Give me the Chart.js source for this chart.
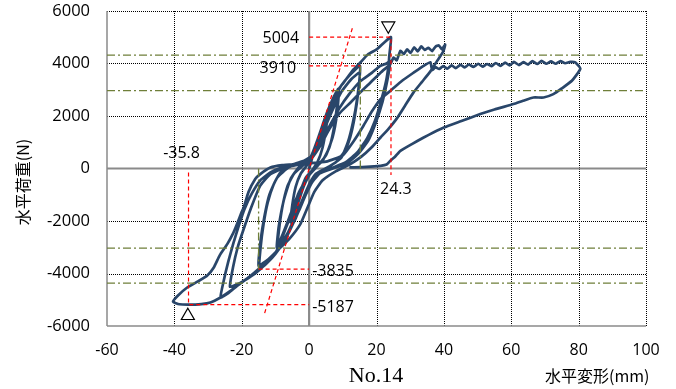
<!DOCTYPE html>
<html><head><meta charset="utf-8">
<script src="https://cdn.jsdelivr.net/npm/chart.js@4/dist/chart.umd.min.js"></script>
<style>html,body{margin:0;padding:0;background:#fff;}canvas{display:block;}</style>
</head><body>
<canvas id="c" width="676" height="389"></canvas>
<script>
const xTicks = [-60, -40, -20, 0, 20, 40, 60, 80, 100];
const yTicks = [-6000, -4000, -2000, 0, 2000, 4000, 6000];

// hysteresis path: [displacement (mm), load (N)]
const hysteresis = [
[0,0],[1.5,650],[3,1250],[4.5,1800],[5.5,2100],
[5,1500],[4,800],[2.5,250],[0.5,-150],[-1.5,-650],[-3,-1200],[-4.5,-1750],[-5.5,-2050],
[-5,-1400],[-4,-700],[-2.5,-200],[-0.5,150],
[1.5,600],[3.5,1300],[5.5,1950],[7,2500],[8.6,3030],
[8.2,2300],[7.3,1500],[6,800],[4,300],[1.5,0],[-1,-350],[-3,-1000],[-5,-1650],[-7,-2300],[-8.5,-2800],[-9.5,-3130],
[-9,-2400],[-8,-1500],[-6.5,-700],[-4.5,-200],[-2,100],[0.5,350],
[2.5,900],[5,1800],[7,2400],[8.8,2950],[8.3,2100],[7,1200],[5,500],[2.5,100],[0,-250],[-3,-900],[-6,-1900],[-8,-2550],[-9.6,-3000],[-9,-2200],[-7.5,-1200],[-5.5,-400],[-3,50],[0,250],
[2,800],[4.5,1700],[7,2500],[9.5,3150],[12,3550],[15.1,3910],
[14.6,2950],[13.5,1950],[12.2,1200],[10.5,650],[8,250],[5,0],[2,-250],[0,-700],[-2,-1300],[-4.5,-2000],[-7,-2700],[-10,-3250],[-12.5,-3600],[-14.8,-3835],
[-14.4,-3000],[-13.5,-2100],[-12.3,-1300],[-10.5,-600],[-8.5,-150],[-5,150],[-1.5,300],[1,500],
[3.5,1200],[6.5,2100],[9.5,2900],[12.5,3400],[15,3650],[14.3,2700],[13,1750],[11.5,1000],[9.5,400],[6,80],[2,-200],[0,-600],[-3,-1500],[-6.5,-2500],[-10,-3200],[-13,-3550],[-15,-3700],[-14.4,-2750],[-13.3,-1850],[-11.8,-1000],[-9.5,-350],[-6,50],[-2,250],[0.5,450],
[2.5,1100],[5.3,2130],[8,2900],[10.3,3280],[13,3750],[15.2,4040],[17.5,4350],[20.2,4550],[22.3,4800],[24.3,5004],
[23.8,4300],[23.6,3950],
[22.8,3300],[21.3,2550],[19.5,1800],[17.2,1150],[14.2,600],[11,250],[7,30],[3.5,-150],[1,-500],[-1,-1000],
[-3,-1600],[-5.5,-2300],[-8,-2900],[-11,-3400],[-14.5,-3800],[-18,-4150],[-21.4,-4470],[-24,-4750],[-26.3,-4915],
[-25.3,-4250],[-24,-3550],[-22.5,-2850],[-20.8,-2150],[-19.2,-1550],[-17,-950],[-14.5,-450],[-11.5,-150],[-8,50],[-4.5,170],[-1,300],[1,450],
[3,900],[6,1600],[9,2300],[12,2850],[15,3300],[18.7,3650],[21,3900],[23,4000],[24.1,4100],
[23.2,3350],[21.8,2550],[19.8,1750],[17.5,1050],[14.5,550],[11,180],[7,0],[3,-200],[0.5,-600],[-1.5,-1100],
[-4,-1900],[-7,-2600],[-10,-3200],[-13,-3650],[-16,-4000],[-19,-4250],[-21.5,-4420],[-23.5,-4500],
[-22.6,-3772],[-21.2,-3000],[-19.6,-2373],[-17.2,-1486],[-14.5,-650],[-11.5,-213],[-7,40],[-3,150],[0,280],
[3,800],[6,1500],[9,2100],[12.3,2515],[15.2,2900],[18,3250],[21.2,3650],[23,3850],[24.1,3978],[25.1,4229],[26,4120],[27.1,4484],[28.1,4360],[29.1,4540],[30.1,4400],[31.2,4620],[32.2,4460],[33.3,4650],[34.3,4520],[35.4,4600],[36.5,4470],[37.5,4640],[38.5,4690],[39.4,4540],[40.4,4720],[39.8,4450],
[38,4100],[36,3700],[33.5,3300],[31,2900],[28.5,2400],[26,1900],[23.5,1500],[21.2,1181],[18.5,800],[15.5,450],[12,150],[8,-100],[4,-450],[1.5,-900],[-0.5,-1500],
[-2.6,-2118],[-6,-2700],[-9.5,-3136],[-12,-3450],[-14.5,-3772],[-18,-4150],[-21.4,-4469],[-24,-4720],[-26.3,-4915],[-29.3,-5105],[-32,-5165],[-35.8,-5187],[-38.5,-5170],[-40.4,-5079],
[-39,-4850],[-36.2,-4534],[-33,-4300],[-30.3,-4088],[-28.3,-3772],[-26.5,-3300],[-24.3,-2880],[-22.5,-2450],[-21.4,-2118],[-20,-1650],[-19.4,-1486],[-18,-900],[-16,-400],[-14.5,-213],[-11.5,38],[-8,130],[-3.6,168],[0,200],[5,260],[10,500],[13,1000],[16,1600],[18.5,2150],[21.2,2644],[24.5,3000],[27.6,3341],[31,3650],[34,3913],[36,4050],[36.5,3749],
[37.5,3860],[38.6,3790],[39.8,3900],[41,3800],[42.3,3930],[43.5,3820],[44.9,3950],[46.2,3850],[47.4,3960],[48.8,3870],[50.2,3990],[51.5,3880],[52.8,3980],[54.2,3900],[55.4,4020],[56.8,3910],[58.2,4030],[59.5,3930],[60.8,4060],[62.3,3940],[63.6,4050],[65,3960],[66.3,4090],[67.7,3980],[69,4100],[70.4,3990],[71.8,4080],[73.2,3990],[74.6,4090],[76,4010],[77.5,4060],[79,4040],[80.5,3800],
[78,3341],[75,3050],[72.5,2834],[69.6,2705],[66.6,2705],[63.5,2580],[60.7,2454],[55,2250],[50.8,2073],[45,1800],[40,1562],[37,1380],[34,1181],[30.5,930],[27.1,674],[25.5,450],[24.1,293],[23,150],[21.2,103],[17,60],[12.3,40]
];

const maxPoint = [24.3, 5004];
const minPoint = [-35.8, -5187];
const yieldPos = [15.2, 3910];
const yieldNeg = [-15, -3835];
const stiffnessLine = [[-13.2, -5508], [12.9, 5371]];
const levelLines = [4320, 2970, -3030, -4370];
const markerPoints = [[23.5, 5440], [-36, -5610]];

const pts = arr => arr.map(p => ({x: p[0], y: p[1]}));
const red = '#ff0000', green = '#6f7f3a', navy = '#29466a';
const redDash = (data) => ({data: pts(data), borderColor: red, borderWidth: 1.2, borderDash: [4, 3], pointRadius: 0, fill: false, tension: 0});
const greenDash = (data) => ({data: pts(data), borderColor: green, borderWidth: 1.3, borderDash: [8, 3, 2, 3], pointRadius: 0, fill: false, tension: 0});

const datasets = [
  {data: pts([markerPoints[0]]), showLine: false, pointStyle: 'triangle', rotation: 180, pointRadius: 7.5, borderColor: '#000', backgroundColor: '#fff', pointBorderWidth: 1.2},
  {data: pts([markerPoints[1]]), showLine: false, pointStyle: 'triangle', rotation: 0, pointRadius: 7.5, borderColor: '#000', backgroundColor: '#fff', pointBorderWidth: 1.2},
  redDash([[0, maxPoint[1]], maxPoint, [maxPoint[0], -250]]),
  redDash([[0, yieldPos[1]], yieldPos]),
  redDash(stiffnessLine),
  redDash([[minPoint[0], -150], minPoint, [0, minPoint[1]]]),
  redDash([yieldNeg, [0, yieldNeg[1]]]),
  greenDash([[yieldPos[0], 0], yieldPos]),
  greenDash([[yieldNeg[0], 0], yieldNeg]),
  ...levelLines.map(v => greenDash([[xTicks[0], v], [xTicks[xTicks.length - 1], v]])),
  {data: pts(hysteresis), borderColor: navy, borderWidth: 2.7, pointRadius: 0, fill: false, tension: 0.15, borderJoinStyle: 'round', borderCapStyle: 'round'}
];

const decor = {
  id: 'decor',
  beforeDatasetsDraw(chart) {
    const {ctx, chartArea: a, scales: {x, y}} = chart;
    const line = (x1, y1, x2, y2) => { ctx.beginPath(); ctx.moveTo(x1, y1); ctx.lineTo(x2, y2); ctx.stroke(); };
    ctx.save();
    ctx.strokeStyle = '#000'; ctx.lineWidth = 1; ctx.setLineDash([1, 1]);
    xTicks.forEach(v => { if (v === 0 || v === xTicks[0]) return; const p = Math.round(x.getPixelForValue(v)) + 0.5; line(p, a.top, p, a.bottom); });
    yTicks.forEach(v => { if (v === 0 || v === yTicks[0]) return; const p = Math.round(y.getPixelForValue(v)) + 0.5; line(a.left, p, a.right, p); });
    ctx.setLineDash([]);
    ctx.strokeStyle = '#8a8a8a'; ctx.lineWidth = 1.5;
    line(a.left, a.top, a.left, a.bottom);
    line(a.left, a.bottom, a.right, a.bottom);
    ctx.lineWidth = 2.2; ctx.strokeStyle = '#8a8a8a';
    const x0 = x.getPixelForValue(0), y0 = y.getPixelForValue(0);
    line(x0, a.top, x0, a.bottom);
    line(a.left, y0, a.right, y0);
    ctx.restore();
  },
  afterDraw(chart) {
    const {ctx, scales: {x, y}} = chart;
    ctx.save();
    ctx.fillStyle = '#000';
    ctx.textBaseline = 'middle';
    ctx.font = "16px 'Open Sans'";
    const x0 = x.getPixelForValue(0);
    ctx.textAlign = 'right';
    ctx.fillText(String(maxPoint[1]), x0 - 10, y.getPixelForValue(maxPoint[1]) + 1);
    ctx.fillText(String(yieldPos[1]), x0 - 13, y.getPixelForValue(yieldPos[1]) + 3);
    ctx.textAlign = 'center';
    ctx.fillText(String(minPoint[0]), x.getPixelForValue(minPoint[0]) - 7, y.getPixelForValue(0) - 15);
    ctx.textAlign = 'left';
    ctx.fillText(String(maxPoint[0]), x.getPixelForValue(maxPoint[0]) - 11, y.getPixelForValue(0) + 21);
    ctx.fillText(String(yieldNeg[1]), x0 + 3, y.getPixelForValue(yieldNeg[1]) + 2);
    ctx.fillText(String(minPoint[1]), x0 + 3, y.getPixelForValue(minPoint[1]) + 3);
    ctx.font = "16px 'Noto Sans CJK JP'";
    ctx.textAlign = 'left';
    ctx.fillText('水平変形(mm)', 545, 376);
    ctx.save();
    ctx.translate(23, 182);
    ctx.rotate(-Math.PI / 2);
    ctx.textAlign = 'center';
    ctx.fillText('水平荷重(N)', 0, 0);
    ctx.restore();
    ctx.font = "22px 'Liberation Serif'";
    ctx.textAlign = 'center';
    ctx.fillText('No.14', 376, 376);
    ctx.restore();
  }
};

new Chart(document.getElementById('c'), {
  type: 'line',
  data: {datasets},
  plugins: [decor],
  options: {
    responsive: false,
    animation: false,
    devicePixelRatio: 1,
    layout: {padding: {top: 11, right: 30, left: 0, bottom: 0}},
    plugins: {legend: {display: false}, tooltip: {enabled: false}},
    scales: {
      x: {
        type: 'linear', min: xTicks[0], max: xTicks[xTicks.length - 1],
        afterBuildTicks: s => { s.ticks = xTicks.map(v => ({value: v})); },
        afterFit: s => { s.height = 63; s.paddingLeft = 0; s.paddingRight = 0; },
        grid: {display: false, drawTicks: false}, border: {display: false},
        ticks: {color: '#000', font: {family: "'Open Sans'", size: 16}, padding: 15, maxRotation: 0, callback: v => String(v)}
      },
      y: {
        type: 'linear', min: yTicks[0], max: yTicks[yTicks.length - 1],
        afterBuildTicks: s => { s.ticks = yTicks.map(v => ({value: v})); },
        afterFit: s => { s.width = 107; s.paddingTop = 0; s.paddingBottom = 0; },
        grid: {display: false, drawTicks: false}, border: {display: false},
        ticks: {color: '#000', font: {family: "'Open Sans'", size: 16.5}, padding: 17, callback: v => String(v)}
      }
    }
  }
});
</script>
</body></html>
